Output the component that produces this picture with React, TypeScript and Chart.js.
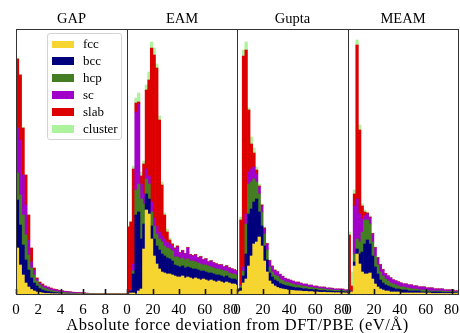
import React, { useEffect, useRef } from "react";
import { Chart, registerables } from "chart.js";

Chart.register(...registerables);

// ---------------- data ----------------
const SERIES_NAMES = ["fcc", "bcc", "hcp", "sc", "slab", "cluster"];
const SERIES_COLORS = ["#f6d531", "#00007d", "#457d22", "#a000c8", "#dd0000", "#adf29c"];

const GAP_TICKS = [0, 2, 4, 6, 8];
const FORCE_TICKS = [0, 20, 40, 60, 80];

const GAP_BIN = 0.25;
const FORCE_BIN = 2;

const GAP_FCC = [46,29,19,11,7,4.5,3,2,1.5,1, 0.5,0.5,0.3,0.2,0.2,0.1,0.1,0.1,0,0, 0,0,0,0,0,0,0,0,0,0, 0,0,0,0,0,0,0,0,0,0];
const GAP_BCC = [48,40,30,23,17,11.5,8,6,4,3, 2.5,2,1.7,1.3,1,0.9,0.7,0.5,0.5,0.4, 0.3,0.3,0.2,0.2,0.1,0.1,0.1,0.1,0,0, 0,0,0,0,0,0,0,0,0,0];
const GAP_HCP = [27,30,30,25,15,10,8,5,3.5,3, 2.5,2,1.5,1.5,1.3,1,0.9,0.8,0.7,0.6, 0.5,0.4,0.4,0.3,0.3,0.2,0.2,0.1,0.2,0.1, 0.1,0.1,0.1,0,0.1,0,0,0,0,0];
const GAP_SC = [45,55,40,30,15,6,5,2,2,2, 2,2,2,1.5,1.5,1.5,1.3,1.2,1.1,1, 0.9,0.8,0.7,0.6,0.6,0.5,0.4,0.4,0.3,0.3, 0.2,0.3,0.2,0.2,0.1,0.1,0.2,0.1,0.1,0.1];
const GAP_SLAB = [69,65,47,30,25,14,2,1,1,1, 0.5,0.5,0.5,0.5,0.5,0.3,0.2,0.2,0.1,0.1, 0.1,0.1,0.1,0.1,0,0,0,0,0,0, 0,0,0,0,0,0,0,0,0,0];
const GAP_CLUSTER = [1,0.5,0.5,0.3,0.2,0.1,0,0,0,0, 0,0,0,0,0,0,0,0,0,0, 0,0,0,0,0,0,0,0,0,0, 0,0,0,0,0,0,0,0,0,0];

const EAM_FCC = [0,1,1,0,3,5,45,84,80,55, 38,30,25,22,21,20,20,19,18,17, 17,18,16,17,16,15,16,15,14,15, 14,13,14,13,12,13,12,11,12,11, 10,10,9];
const EAM_BCC = [1,2,19,79,79,50,25,16,15,13, 17,18,19,18,17,16,15,14,11,11, 10,10,10,10,10,10,9,9,9,8, 8,8,7,7,7,6,6,6,6,5, 5,5,5];
const EAM_HCP = [0,0,3,25,28,40,20,15,15,14, 13,12,11,12,10,10,10,10,8,9, 8,8,8,8,7,8,7,7,7,6, 7,7,6,6,6,6,6,6,5,5, 5,5,5];
const EAM_SC = [0,1,7,78,80,15,10,10,8,10, 8,8,7,6,7,6,5,5,8,10, 6,7,6,11,6,5,7,5,7,5, 6,4,6,5,5,4,5,4,5,5, 5,4,4];
const EAM_SLAB = [66,68,95,9,2,8,30,79,96,154, 163,158,112,51,24,10,4,2,1,1, 0.5,0.5,0.5,0.5,0.5,0.5,0.5,0.5,0.5,0.5, 0.3,0.3,0.3,0.3,0.3,0.3,0.3,0.3,0.3,0.3, 0.3,0.3,0.3];
const EAM_CLUSTER = [1,1,3,5,9,4,3,5,8,6, 7,4,4,3,2,3,2,1,0.5,0.5, 0.5,0.5,0.5,0.5,0.5,0.5,0.5,0.5,0.5,0.5, 0.5,0.5,0.5,0.5,0.5,0.5,0.5,0.5,0.5,0.5, 0.5,0.5,0.5];

const GUPTA_FCC = [2,3,11,15,28,38,50,52,57,48, 33,22,13,10,8,6.5,5.5,5,4.5,4, 3.8,3.5,3.2,3.1,3,2.6,2.7,2.3,2.4,2, 2.1,1.8,1.7,1.8,1.5,1.5,1.4,1.2,1.3,1.2, 1.2,1,1];
const GUPTA_BCC = [2,3,7,25,52,47,42,43,25,20, 15,12,8,7,6,6,5,4.5,4,4, 3.6,3.3,3,3.1,2.8,2.5,2.5,2.3,2.2,2, 2,1.8,1.8,1.7,1.5,1.5,1.5,1.3,1.2,1.3, 1.2,1,1];
const GUPTA_HCP = [1,2,5,30,30,27,23,17,18,14, 12,10,6,5,5,5,4.5,4,3.5,3.5, 3.2,3,2.8,2.8,2.5,2.4,2.3,2.1,2.1,1.9, 1.8,1.6,1.7,1.6,1.4,1.4,1.4,1.2,1.2,1.1, 1.2,0.9,1];
const GUPTA_SC = [0,1,4,10,12,13,12,8,7,6, 5,6,6,5.5,4.5,4.5,4.5,4,3.5,3.2, 3.1,3,2.8,2.8,2.5,2.3,2.3,2.1,2.1,1.9, 1.9,1.7,1.6,1.7,1.4,1.5,1.4,1.2,1.2,1.3, 1.2,1,0.9];
const GUPTA_SLAB = [0,65,211,164,62,25,14,4,1,1, 1,0.5,0.5,0.5,0.5,0.3,0.3,0.3,0.3,0.2, 0.2,0.1,0.1,0.1,0.1,0.1,0.1,0.1,0.1,0.1, 0.1,0.1,0.1,0.1,0.1,0.1,0.1,0.1,0.1,0.1, 0.1,0.1,0.1];
const GUPTA_CLUSTER = [0,3,6,8,2,7,5,3,2,1, 1,0.5,0.5,0.5,0.5,0.2,0.2,0.2,0.2,0.1, 0.1,0,0,0,0,0,0,0,0,0, 0,0,0,0,0,0,0,0,0,0, 0,0,0];

const MEAM_FCC = [0,2,28,40,30,22,20,20,21,15, 10,7,5,4,3,3,2,2,2,2, 1,1,1,1,1,1,1,1,1,1, 1,1,0.5,0.5,0.5,0.5,0.5,0.5,0.5,0.5, 0.5,0.5,0.5];
const MEAM_BCC = [3,0,4,5,10,20,30,34,29,23, 17,13,9,7,6,5,5,4,3,3, 3,3,3,2,2,2,2,2,1,1, 1,1,1.5,1.5,1.5,1.5,1,1,1,1, 1,0.5,0.5];
const MEAM_HCP = [0,0,8,10,12,20,24,20,20,14, 11,9,8,7,6,5,4,4,4,3, 3,3,2,3,2,2,2,1,2,2, 2,1,1,1,1,1,1.5,1,1,1, 0.5,1,1];
const MEAM_SC = [0,0,48,40,28,13,4,6,6,8, 8,7,7,6,5,5,5,4,4,4, 4,3,4,3,4,3,3,3,3,3, 2,3,3,2,2,2,2,1.5,1.5,1.5, 2,1,1];
const MEAM_SLAB = [56,6,12,154,84,13,4,1,1,0.5, 0.5,0.5,0.5,0.5,0.5,0.2,0.2,0.2,0.2,0.2, 0.1,0.1,0.1,0.1,0.1,0.1,0.1,0.1,0.1,0.1, 0.1,0.1,0.1,0.1,0.1,0.1,0.1,0.1,0.1,0.1, 0.1,0.1,0.1];
const MEAM_CLUSTER = [3,14,4,5,5,2,2,1,1,0.5, 0.5,0.5,0.5,0.5,0.5,0.2,0.2,0.2,0.2,0.2, 0,0,0,0,0,0,0,0,0,0, 0,0,0,0,0,0,0,0,0,0, 0,0,0];

// ---------------- layout ----------------
const W = 460;
const H = 333;
const TOP = 29;
const BOTTOM = 294;
const PAD = 14;
const Y_MAX = 265;
const SERIF = "'Liberation Serif', 'Times New Roman', serif";

const PANELS = [
  { title: "GAP", left: 16, right: 127, bin: GAP_BIN, xMax: 9.95, ticks: GAP_TICKS,
    series: [GAP_FCC, GAP_BCC, GAP_HCP, GAP_SC, GAP_SLAB, GAP_CLUSTER] },
  { title: "EAM", left: 127, right: 237, bin: FORCE_BIN, xMax: 85, ticks: FORCE_TICKS,
    series: [EAM_FCC, EAM_BCC, EAM_HCP, EAM_SC, EAM_SLAB, EAM_CLUSTER] },
  { title: "Gupta", left: 237, right: 348, bin: FORCE_BIN, xMax: 85, ticks: FORCE_TICKS,
    series: [GUPTA_FCC, GUPTA_BCC, GUPTA_HCP, GUPTA_SC, GUPTA_SLAB, GUPTA_CLUSTER] },
  { title: "MEAM", left: 348, right: 458, bin: FORCE_BIN, xMax: 85, ticks: FORCE_TICKS,
    series: [MEAM_FCC, MEAM_BCC, MEAM_HCP, MEAM_SC, MEAM_SLAB, MEAM_CLUSTER] },
];

const framePlugin = {
  id: "panelFrame",
  afterDraw(chart: any) {
    const { ctx, chartArea } = chart;
    const x = chart.scales.x;
    const { left, right, top, bottom } = chartArea;
    ctx.save();
    ctx.strokeStyle = "#111";
    ctx.lineWidth = 1.6;
    x.ticks.forEach((t: any) => {
      const px = Math.round(x.getPixelForValue(t.value)) + 0.5;
      ctx.beginPath();
      ctx.moveTo(px, bottom);
      ctx.lineTo(px, bottom - 5);
      ctx.stroke();
    });
    ctx.strokeStyle = "#333";
    ctx.lineWidth = 1;
    ctx.strokeRect(Math.round(left) + 0.5, Math.round(top) + 0.5,
      Math.round(right - left), Math.round(bottom - top));
    ctx.restore();
  },
};

function Panel({ p }: { p: any }) {
  const ref = useRef<HTMLCanvasElement | null>(null);
  const width = p.right - p.left + 2 * PAD;
  useEffect(() => {
    if (!ref.current) return;
    const chart = new Chart(ref.current, {
      type: "bar",
      data: {
        datasets: SERIES_NAMES.map((name, k) => ({
          label: name,
          data: p.series[k].map((v: number, i: number) => ({ x: p.bin * (i + 0.5), y: v })),
          backgroundColor: SERIES_COLORS[k],
          borderWidth: 0,
          barPercentage: 1,
          categoryPercentage: 1,
        })),
      },
      options: {
        animation: false,
        responsive: false,
        maintainAspectRatio: false,
        events: [],
        layout: { padding: { top: TOP, left: PAD, right: PAD, bottom: 0 } },
        plugins: { legend: { display: false }, tooltip: { enabled: false }, title: { display: false } },
        scales: {
          x: {
            type: "linear",
            min: 0,
            max: p.xMax,
            stacked: true,
            offset: false,
            grid: { display: false, drawTicks: false },
            border: { display: false },
            afterBuildTicks: (axis: any) => {
              axis.ticks = p.ticks.map((v: number) => ({ value: v }));
            },
            afterFit: (axis: any) => {
              axis.height = H - BOTTOM;
            },
            ticks: {
              autoSkip: false,
              maxRotation: 0,
              padding: 7,
              color: "#000",
              font: { family: SERIF, size: 15 },
            },
          },
          y: { display: false, stacked: true, min: 0, max: Y_MAX },
        },
      },
      plugins: [framePlugin],
    } as any);
    return () => chart.destroy();
  }, []);
  return (
    <canvas
      ref={ref}
      width={width}
      height={H}
      style={{ position: "absolute", left: p.left - PAD, top: 0, width, height: H }}
    />
  );
}

export default function App() {
  const legendRows = SERIES_NAMES.map((n, k) => ({ n, c: SERIES_COLORS[k] }));
  return (
    <div style={{ position: "fixed", left: 0, top: 0, width: W, height: H, background: "#fff", overflow: "hidden", fontFamily: SERIF }}>
      {PANELS.map((p) => (
        <Panel key={p.title} p={p} />
      ))}
      {PANELS.map((p) => (
        <div key={"t" + p.title} style={{ position: "absolute", left: p.left, width: p.right - p.left, top: 10, textAlign: "center", fontSize: 14.5, lineHeight: "normal", color: "#000" }}>
          {p.title}
        </div>
      ))}
      <div style={{ position: "absolute", left: 47, top: 33, width: 73, height: 105, border: "1px solid #d4d4d4", borderRadius: 3, background: "rgba(255,255,255,0.85)" }}>
        {legendRows.map((r, k) => (
          <div key={r.n} style={{ position: "absolute", left: 0, top: 3 + k * 16.9, height: 14, width: 73 }}>
            <div style={{ position: "absolute", left: 4, top: 3.5, width: 22, height: 7.5, background: r.c }} />
            <div style={{ position: "absolute", left: 35, top: -1, fontSize: 13, lineHeight: "16px", color: "#000" }}>{r.n}</div>
          </div>
        ))}
      </div>
      <div style={{ position: "absolute", left: 0, width: 475, top: 315, textAlign: "center", fontSize: 16.5, letterSpacing: 0.5, lineHeight: "normal", color: "#000", whiteSpace: "nowrap" }}>
        Absolute force deviation from DFT/PBE (eV/Å)
      </div>
    </div>
  );
}
